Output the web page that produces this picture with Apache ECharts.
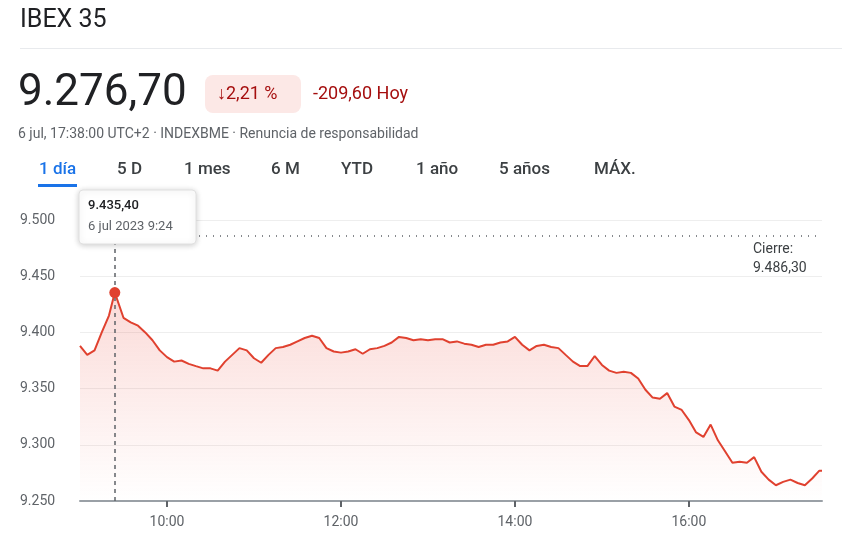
<!DOCTYPE html>
<html>
<head>
<meta charset="utf-8">
<script src="https://cdn.jsdelivr.net/npm/echarts@6/dist/echarts.min.js"></script>
<style>html,body{margin:0;padding:0;background:#fff}#charts{width:842px;height:555px}</style>
</head>
<body>
<div id="charts"></div>
<script>
// horas (decimal) y valores del índice
const times = [9.0, 9.083, 9.167, 9.25, 9.333, 9.4, 9.5, 9.583, 9.667, 9.75, 9.833, 9.917,
  10.0, 10.083, 10.167, 10.25, 10.333, 10.417, 10.5, 10.583, 10.667, 10.75, 10.833, 10.917,
  11.0, 11.083, 11.167, 11.25, 11.333, 11.417, 11.5, 11.583, 11.667, 11.75, 11.833, 11.917,
  12.0, 12.083, 12.167, 12.25, 12.333, 12.417, 12.5, 12.583, 12.667, 12.75, 12.833, 12.917,
  13.0, 13.083, 13.167, 13.25, 13.333, 13.417, 13.5, 13.583, 13.667, 13.75, 13.833, 13.917,
  14.0, 14.083, 14.167, 14.25, 14.333, 14.417, 14.5, 14.583, 14.667, 14.75, 14.833, 14.917,
  15.0, 15.083, 15.167, 15.25, 15.333, 15.417, 15.5, 15.583, 15.667, 15.75, 15.833, 15.917,
  16.0, 16.083, 16.167, 16.25, 16.333, 16.417, 16.5, 16.583, 16.667, 16.75, 16.833, 16.917,
  17.0, 17.083, 17.167, 17.25, 17.333, 17.417, 17.5, 17.53];
const values = [9388, 9380, 9384, 9400, 9415, 9435.4, 9413, 9409, 9406, 9400, 9393, 9384,
  9378, 9374, 9375, 9372, 9370, 9368, 9368, 9366, 9374, 9380, 9386, 9384,
  9377, 9373, 9380, 9386, 9387, 9389, 9392, 9395, 9397, 9395, 9386, 9383,
  9382, 9383, 9385, 9381, 9385, 9386, 9388, 9391, 9396, 9395, 9393, 9394,
  9393, 9394, 9394, 9391, 9392, 9390, 9389, 9387, 9389, 9389, 9391, 9392,
  9396, 9389, 9384, 9388, 9389, 9387, 9386, 9380, 9374, 9370, 9370, 9379,
  9371, 9366, 9364, 9365, 9364, 9359, 9349, 9342, 9341, 9346, 9334, 9331,
  9322, 9311, 9307, 9318, 9304, 9294, 9284, 9285, 9284, 9289, 9276, 9269,
  9264, 9267, 9269, 9266, 9264, 9270, 9277, 9277];
const yTicks = [9250, 9300, 9350, 9400, 9450, 9500];
const xTicks = [10, 12, 14, 16];
const prevClose = 9486.3;
const peak = [9.4, 9435.4];

const fmt = v => v.toLocaleString('de-DE', {minimumFractionDigits: 0});
const font = 'Roboto';

const option = {
    animation: false,
    grid: {left: 80, right: 20, top: 220, bottom: 54},
    xAxis: {
        type: 'value', min: 9, max: 17.53,
        splitLine: {show: false},
        axisLine: {lineStyle: {color: '#9aa0a6', width: 2}},
        axisTick: {show: true, customValues: xTicks, length: 6, lineStyle: {color: '#5f6368', width: 2}},
        axisLabel: {customValues: xTicks, formatter: v => v + ':00', color: '#5f6368', fontSize: 14, fontFamily: font, margin: 14}
    },
    yAxis: {
        type: 'value', min: 9250, max: 9500, interval: 50,
        axisLine: {show: false}, axisTick: {show: false},
        splitLine: {lineStyle: {color: '#eeeeee'}},
        axisLabel: {formatter: v => fmt(v), color: '#5f6368', fontSize: 14, fontFamily: font, align: 'left', margin: 60}
    },
    series: [{
        type: 'line',
        data: times.map((t, i) => [t, values[i]]),
        showSymbol: false,
        lineStyle: {color: '#e0412f', width: 2},
        areaStyle: {
            origin: 'start',
            color: new echarts.graphic.LinearGradient(0, 0, 0, 1, [
                {offset: 0, color: 'rgba(234,67,53,0.28)'},
                {offset: 1, color: 'rgba(234,67,53,0.0)'}
            ])
        },
        markLine: {
            silent: true, symbol: 'none', label: {show: false},
            data: [
                {yAxis: prevClose, lineStyle: {color: '#5f6368', type: [1, 6], width: 1.5}},
                {xAxis: peak[0], lineStyle: {color: '#5f6368', type: [4, 4], width: 1.5}}
            ]
        },
        markPoint: {
            symbol: 'circle', symbolSize: 11, label: {show: false},
            itemStyle: {color: '#e0412f'},
            data: [{coord: peak}]
        }
    }],
    graphic: [
        {type: 'text', left: 20, top: 8, style: {text: 'IBEX 35', font: '25px Roboto', fill: '#202124'}},
        {type: 'rect', shape: {x: 20, y: 48, width: 822, height: 1}, style: {fill: '#e8eaed'}},
        {type: 'text', left: 18, top: 72, style: {text: '9.276,70', font: '44px Roboto', fill: '#202124'}},
        {type: 'rect', shape: {x: 205, y: 75, width: 96, height: 38, r: 8}, style: {fill: '#fce8e6'}},
        {type: 'text', left: 217, top: 85, style: {text: '↓2,21 %', font: '18px Roboto', fill: '#a50e0e'}},
        {type: 'text', left: 313, top: 85, style: {text: '-209,60 Hoy', font: '18px Roboto', fill: '#a50e0e'}},
        {type: 'text', left: 18, top: 127, style: {text: '6 jul, 17:38:00 UTC+2 · INDEXBME · Renuncia de responsabilidad', font: '14px Roboto', fill: '#5f6368'}},
        {type: 'text', left: 39, top: 161, style: {text: '1 día', font: '500 17px Roboto', fill: '#1a73e8'}},
        {type: 'rect', shape: {x: 38, y: 184, width: 39, height: 3}, style: {fill: '#1a73e8'}},
        {type: 'text', left: 117, top: 161, style: {text: '5 D', font: '500 17px Roboto', fill: '#3c4043'}},
        {type: 'text', left: 184, top: 161, style: {text: '1 mes', font: '500 17px Roboto', fill: '#3c4043'}},
        {type: 'text', left: 271, top: 161, style: {text: '6 M', font: '500 17px Roboto', fill: '#3c4043'}},
        {type: 'text', left: 341, top: 161, style: {text: 'YTD', font: '500 17px Roboto', fill: '#3c4043'}},
        {type: 'text', left: 416, top: 161, style: {text: '1 año', font: '500 17px Roboto', fill: '#3c4043'}},
        {type: 'text', left: 499, top: 161, style: {text: '5 años', font: '500 17px Roboto', fill: '#3c4043'}},
        {type: 'text', left: 594, top: 161, style: {text: 'MÁX.', font: '500 17px Roboto', fill: '#3c4043'}},
        {type: 'text', left: 753, top: 240, style: {text: 'Cierre:\n9.486,30', font: '14px Roboto', fill: '#3c4043', lineHeight: 19}},
        {type: 'rect', z: 100, shape: {x: 79, y: 190, width: 117, height: 54, r: 4},
         style: {fill: '#fff', stroke: '#e0e0e0', shadowBlur: 6, shadowColor: 'rgba(0,0,0,0.2)', shadowOffsetY: 1}},
        {type: 'text', z: 101, left: 88, top: 199, style: {text: '9.435,40', font: '500 13px Roboto', fill: '#202124'}},
        {type: 'text', z: 101, left: 88, top: 220, style: {text: '6 jul 2023 9:24', font: '13px Roboto', fill: '#5f6368'}}
    ]
};
const chart = echarts.init(document.getElementById('charts'));
chart.setOption(option);
</script>
</body>
</html>
